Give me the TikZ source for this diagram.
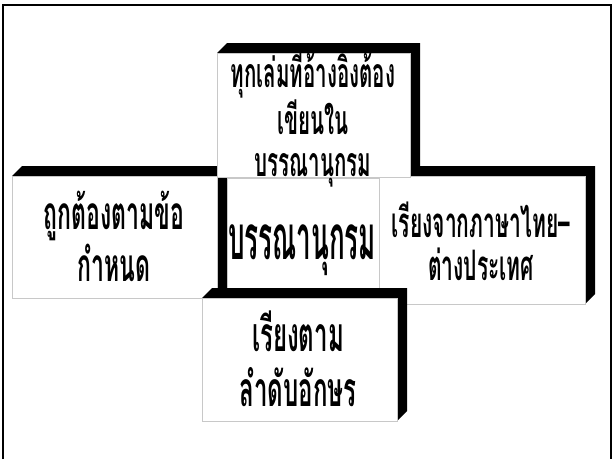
\documentclass[tikz,border=0pt]{standalone}
\usepackage{fontspec}
\newfontfamily\thaifont[Script=Thai,FakeStretch=0.5]{Loma}
\newfontfamily\thaihub[Script=Thai,FakeStretch=0.42]{Loma}
\usepackage{tikz}
\usetikzlibrary{calc}
\definecolor{facegray}{RGB}{200,200,200}
\tikzset{
  %% ---- boxes ----
  face/.style  = {fill=white, draw=facegray, line width=0.6pt},
  depth/.style = {fill=black},
  frame/.style = {draw=black, line width=2pt},
  %% ---- labels ----
  lbl/.style   = {align=center, inner sep=0pt, font=\thaifont\bfseries\fontsize{#1}{#1}\selectfont},
  lbl/.default = 41,
}
%% raised box: x0,y0 (top left of face), x1,y1 (bottom right), in pixels
\newcommand{\extrbox}[4]{%
  \fill[depth] (#1,#2) -- ++(10,-10) -- (#3+10,#2-10) -- (#3+10,#4-10)
    -- (#3,#4) -- (#3,#2) -- cycle;
  \filldraw[face] (#1,#2) rectangle (#3,#4);}

\begin{document}
\begin{tikzpicture}[x=1pt, y=-1pt]
  \useasboundingbox (0,0) rectangle (615,459);

  %% page frame (open at the bottom)
  \draw[frame] (3,459) -- (3,5) -- (611,5) -- (611,459);

  %% the five raised boxes, back to front
  \extrbox{12}{176}{217}{298}
  \extrbox{379}{176}{585}{304}
  \extrbox{217}{53}{410}{177}
  \filldraw[face] (227,178) rectangle (379,288);
  \extrbox{202}{298}{397}{421}

  %% texts
  \node[lbl=41] (need) at (313,116)
    {ทุกเล่มที่อ้างอิงต้อง\\[1pt]เขียนใน\\[1pt]บรรณานุกรม};
  \node[lbl=46] (rule) at (114,236)
    {ถูกต้องตามข้อ\\[2pt]กำหนด};
  \node[lbl=42] (lang) at (481,241)
    {เรียงจากภาษาไทย–\\[1pt]ต่างประเทศ};
  \node[lbl=48] (order) at (298,359)
    {เรียงตาม\\[7pt]ลำดับอักษร};
  \node[font=\thaihub\bfseries\fontsize{62}{62}\selectfont, inner sep=0pt]
    (hub) at (302,250) {บรรณานุกรม};

\end{tikzpicture}
\end{document}
